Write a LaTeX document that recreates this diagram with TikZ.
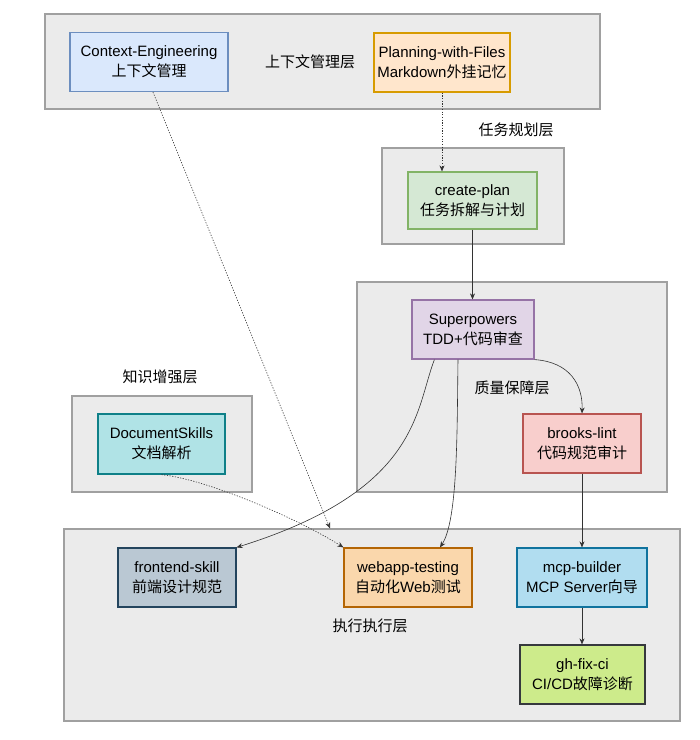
\documentclass[tikz,border=0pt]{standalone}
\usepackage{fontspec}
\setmainfont{Liberation Sans}
\newfontfamily\cjk{Noto Sans CJK SC}
\usetikzlibrary{arrows.meta}
\definecolor{layerfill}{HTML}{EBEBEB}
\definecolor{layerline}{HTML}{A0A0A0}
\definecolor{ctxline}{HTML}{6C8EBF}\definecolor{ctxfill}{HTML}{DAE8FC}
\definecolor{pwfline}{HTML}{D79B00}\definecolor{pwffill}{HTML}{FFE6CC}
\definecolor{planline}{HTML}{82B366}\definecolor{planfill}{HTML}{D5E8D4}
\definecolor{spline}{HTML}{9673A6}\definecolor{spfill}{HTML}{E1D5E7}
\definecolor{lintline}{HTML}{B85450}\definecolor{lintfill}{HTML}{F8CECC}
\definecolor{docline}{HTML}{0E8088}\definecolor{docfill}{HTML}{B0E3E6}
\definecolor{feline}{HTML}{23445D}\definecolor{fefill}{HTML}{BAC8D3}
\definecolor{webline}{HTML}{B46504}\definecolor{webfill}{HTML}{FAD7AC}
\definecolor{mcpline}{HTML}{10739E}\definecolor{mcpfill}{HTML}{B1DDF0}
\definecolor{ciline}{HTML}{36393D}\definecolor{cifill}{HTML}{CDEB8B}
\begin{document}
\begin{tikzpicture}
[
    x=1pt, y=-1pt,
    every node/.style={font=\fontsize{15}{20}\selectfont, align=center},
    layer/.style={draw=layerline, fill=layerfill, line width=1.2pt, inner sep=0pt},
    skill/.style={draw, line width=1.2pt, inner sep=0pt, minimum height=59pt},
    flow/.style={-{Stealth[length=6pt, width=5pt]}, line width=0.6pt, black!80},
    dotflow/.style={flow, dash pattern=on 1.2pt off 1.5pt},
]
\useasboundingbox (0,0) rectangle (700,740);
\node [layer, minimum width=555pt, minimum height=95pt] (ctxlayer) at (322.5,61.5) {};
\node [layer, minimum width=182pt, minimum height=96pt] (planlayer) at (473,196) {};
\node [layer, minimum width=310pt, minimum height=210pt] (qalayer) at (512,387) {};
\node [layer, minimum width=180pt, minimum height=96pt] (knowlayer) at (162,444) {};
\node [layer, minimum width=616pt, minimum height=192pt] (execlayer) at (372,625) {};
\node (ctxlabel) at (310,62) {\cjk 上下文管理层};
\node (planlabel) at (516,130) {\cjk 任务规划层};
\node (qalabel) at (512,388) {\cjk 质量保障层};
\node (knowlabel) at (160,377) {\cjk 知识增强层};
\node (execlabel) at (370,626) {\cjk 执行执行层};
\node [skill, draw=ctxline, fill=ctxfill, minimum width=158pt] (ctxeng) at (149,62)
    {Context-Engineering\\\cjk 上下文管理};
\node [skill, draw=pwfline, fill=pwffill, minimum width=136pt] (pwf) at (442,62.5)
    {Planning-with-Files\\Markdown{\cjk 外挂记忆}};
\node [skill, draw=planline, fill=planfill, minimum width=129pt, minimum height=57pt] (cplan) at (472.5,200.5)
    {create-plan\\\cjk 任务拆解与计划};
\node [skill, draw=spline, fill=spfill, minimum width=122pt] (superp) at (473,329.5)
    {Superpowers\\TDD+{\cjk 代码审查}};
\node [skill, draw=lintline, fill=lintfill, minimum width=118pt] (brooks) at (582,443.5)
    {brooks-lint\\\cjk 代码规范审计};
\node [skill, draw=docline, fill=docfill, minimum width=127pt, minimum height=60pt] (docsk) at (161.5,444)
    {DocumentSkills\\\cjk 文档解析};
\node [skill, draw=feline, fill=fefill, minimum width=118pt] (frontend) at (177,577.5)
    {frontend-skill\\\cjk 前端设计规范};
\node [skill, draw=webline, fill=webfill, minimum width=128pt] (webapp) at (408,577.5)
    {webapp-testing\\{\cjk 自动化}Web{\cjk 测试}};
\node [skill, draw=mcpline, fill=mcpfill, minimum width=130pt] (mcpb) at (582,577.5)
    {mcp-builder\\MCP Server{\cjk 向导}};
\node [skill, draw=ciline, fill=cifill, minimum width=125pt] (ghfix) at (582.5,674.5)
    {gh-fix-ci\\CI/CD{\cjk 故障诊断}};
\draw [dotflow] (pwf.south) -- (pwf.south |- cplan.north);
\draw [flow] (cplan.south) -- (cplan.south |- superp.north);
\draw [flow] (superp.south east) .. controls (570,362) and (583,385) .. (brooks.north);
\draw [flow] ([xshift=23pt]superp.south west) .. controls (415,410) and (420,490) .. (frontend.north east);
\draw [flow] ([xshift=-15pt]superp.south) .. controls (457,430) and (458,520) .. ([xshift=32pt]webapp.north);
\draw [dotflow] ([xshift=4pt]ctxeng.south) -- ([xshift=-42pt]execlayer.north);
\draw [dotflow] (docsk.south) .. controls (210,480) and (300,520) .. (webapp.north west);
\draw [flow] (brooks.south) -- (mcpb.north);
\draw [flow] (mcpb.south) -- (mcpb.south |- ghfix.north);
\end{tikzpicture}
\end{document}
